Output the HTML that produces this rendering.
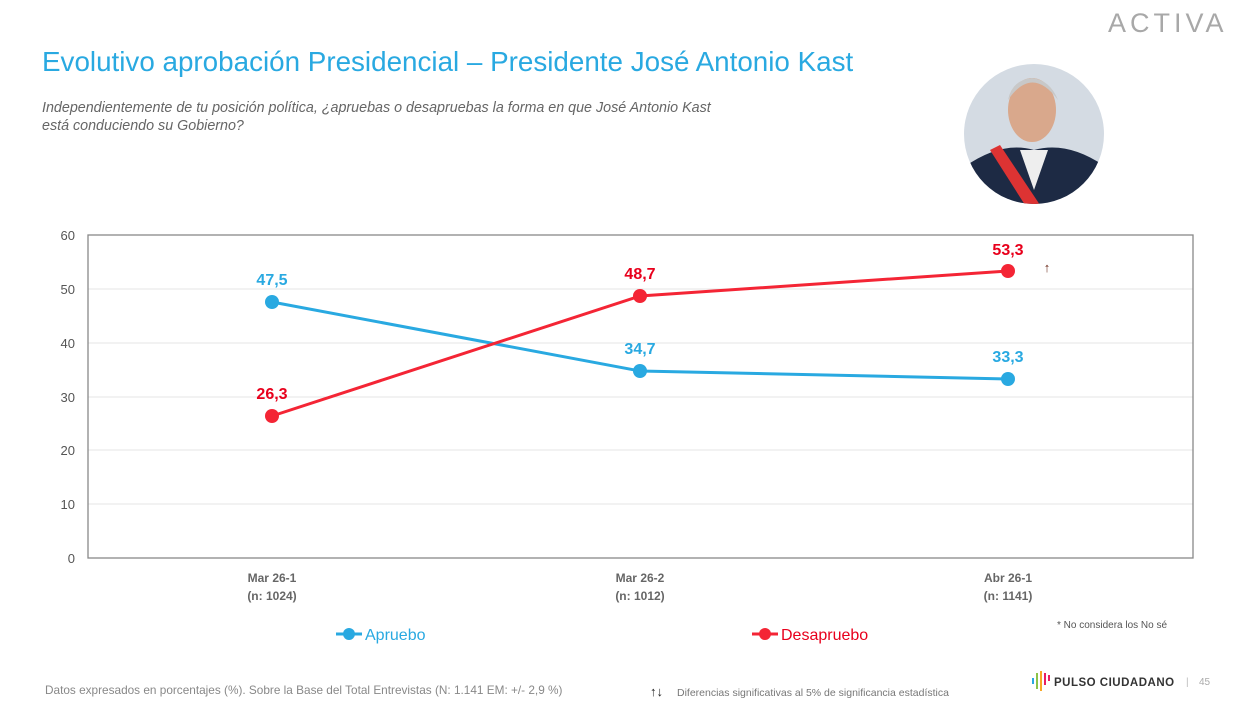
<!DOCTYPE html>
<html><head><meta charset="utf-8"><style>
body{margin:0;width:1255px;height:703px;background:#fff;overflow:hidden;font-family:"Liberation Sans",sans-serif}
</style></head><body>
<svg width="1255" height="703" viewBox="0 0 1255 703" xmlns="http://www.w3.org/2000/svg" font-family="Liberation Sans, sans-serif">
<text x="1108" y="32" font-size="27" fill="#a8a8a8" letter-spacing="4">ACTIVA</text>
<text x="42" y="71" font-size="27.8" fill="#29a9e1">Evolutivo aprobación Presidencial – Presidente José Antonio Kast</text>
<text x="42" y="112" font-size="14.3" fill="#666" font-style="italic">Independientemente de tu posición política, ¿apruebas o desapruebas la forma en que José Antonio Kast</text>
<text x="42" y="130" font-size="14.3" fill="#666" font-style="italic">está conduciendo su Gobierno?</text>
<defs><clipPath id="c"><circle cx="1034" cy="134" r="70"/></clipPath></defs>
<g clip-path="url(#c)">
<rect x="960" y="60" width="150" height="150" fill="#d4dbe3"/>
<path d="M960 170 Q1000 140 1034 150 Q1070 140 1110 170 V210 H960Z" fill="#1d2a44"/>
<path d="M990 150 L1025 205 L1040 205 L1000 145Z" fill="#d33"/>
<path d="M1020 150 L1034 190 L1048 150Z" fill="#eee"/>
<ellipse cx="1032" cy="110" rx="24" ry="32" fill="#d9a88c"/>
<path d="M1008 100 Q1032 65 1058 100 Q1050 80 1032 78 Q1012 80 1008 100Z" fill="#c8c8c8"/>
</g>
<g stroke="#e5e5e5" stroke-width="1">
<line x1="88" y1="289" x2="1193" y2="289"/><line x1="88" y1="343" x2="1193" y2="343"/>
<line x1="88" y1="397" x2="1193" y2="397"/><line x1="88" y1="450" x2="1193" y2="450"/>
<line x1="88" y1="504" x2="1193" y2="504"/>
</g>
<rect x="88" y="235" width="1105" height="323" fill="none" stroke="#888" stroke-width="1.3"/>
<g font-size="13" fill="#555" text-anchor="end">
<text x="75" y="240">60</text><text x="75" y="294">50</text><text x="75" y="348">40</text>
<text x="75" y="402">30</text><text x="75" y="455">20</text><text x="75" y="509">10</text><text x="75" y="563">0</text>
</g>
<g font-size="12" fill="#666" font-weight="bold" text-anchor="middle">
<text x="272" y="582">Mar 26-1</text><text x="272" y="600">(n: 1024)</text>
<text x="640" y="582">Mar 26-2</text><text x="640" y="600">(n: 1012)</text>
<text x="1008" y="582">Abr 26-1</text><text x="1008" y="600">(n: 1141)</text>
</g>
<polyline points="272,302 640,371 1008,379" fill="none" stroke="#29a9e1" stroke-width="3"/>
<polyline points="272,416 640,296 1008,271" fill="none" stroke="#f42535" stroke-width="3"/>
<g fill="#29a9e1"><circle cx="272" cy="302" r="7"/><circle cx="640" cy="371" r="7"/><circle cx="1008" cy="379" r="7"/></g>
<g fill="#f42535"><circle cx="272" cy="416" r="7"/><circle cx="640" cy="296" r="7"/><circle cx="1008" cy="271" r="7"/></g>
<g font-size="16" font-weight="bold" text-anchor="middle">
<text x="272" y="285" fill="#29a9e1">47,5</text><text x="640" y="354" fill="#29a9e1">34,7</text><text x="1008" y="362" fill="#29a9e1">33,3</text>
<text x="272" y="399" fill="#e8001c">26,3</text><text x="640" y="279" fill="#e8001c">48,7</text><text x="1008" y="255" fill="#e8001c">53,3</text>
</g>
<text x="1047" y="272" font-size="13" fill="#6b2a1a" text-anchor="middle">↑</text>
<line x1="336" y1="634" x2="362" y2="634" stroke="#29a9e1" stroke-width="3"/><circle cx="349" cy="634" r="6" fill="#29a9e1"/>
<text x="365" y="640" font-size="16" fill="#29a9e1">Apruebo</text>
<line x1="752" y1="634" x2="778" y2="634" stroke="#f42535" stroke-width="3"/><circle cx="765" cy="634" r="6" fill="#f42535"/>
<text x="781" y="640" font-size="16" fill="#e8001c">Desapruebo</text>
<text x="1057" y="628" font-size="10" fill="#555">* No considera los No sé</text>
<text x="45" y="694" font-size="11.8" fill="#888">Datos expresados en porcentajes (%). Sobre la Base del Total Entrevistas (N: 1.141  EM: +/- 2,9 %)</text>
<text x="650" y="696" font-size="13" fill="#222">↑↓</text>
<text x="677" y="696" font-size="10.5" fill="#777">Diferencias  significativas  al 5% de significancia estadística</text>
<rect x="1032" y="678" width="2" height="6" fill="#29a9e1"/><rect x="1036" y="673" width="2" height="16" fill="#8bc34a"/>
<rect x="1040" y="671" width="2" height="20" fill="#f9a825"/><rect x="1044" y="673" width="2" height="12" fill="#e91e63"/>
<rect x="1048" y="675" width="2" height="6" fill="#e91e63"/>
<text x="1054" y="686" font-size="11.5" fill="#333" font-weight="bold" letter-spacing="0.5">PULSO CIUDADANO</text>
<text x="1186" y="685" font-size="10" fill="#bbb">|</text>
<text x="1199" y="685" font-size="10" fill="#aaa">45</text>
</svg>
</body></html>
